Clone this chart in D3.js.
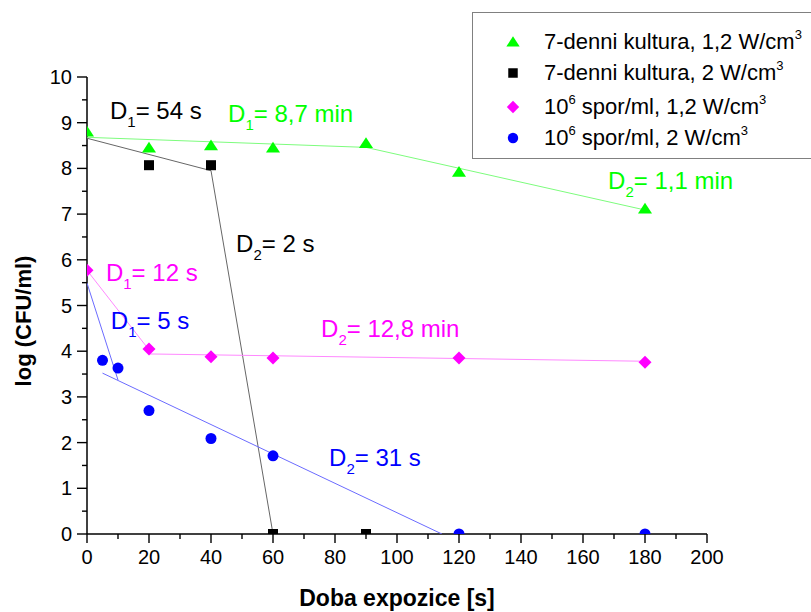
<!DOCTYPE html>
<html>
<head>
<meta charset="utf-8">
<script src="https://cdn.jsdelivr.net/npm/d3@7"></script>
<style>
  body { margin: 0; background: #fff; }
  svg text { font-family: "Liberation Sans", Arial, sans-serif; }
</style>
</head>
<body>
<svg id="chart" width="811" height="612"></svg>
<script>
// Exposure time (s) and log(CFU/ml) for each culture / power setting
const culture7_12_t = [0, 20, 40, 60, 90, 120, 180];
const culture7_12_v = [8.8, 8.45, 8.5, 8.45, 8.55, 7.92, 7.12];
const culture7_2_t = [20, 40, 60, 90];
const culture7_2_v = [8.07, 8.07, 0, 0];
const spores_12_t = [0, 20, 40, 60, 120, 180];
const spores_12_v = [5.77, 4.05, 3.88, 3.85, 3.85, 3.76];
const spores_2_t = [5, 10, 20, 40, 60, 120, 180];
const spores_2_v = [3.8, 3.63, 2.7, 2.09, 1.71, 0, 0];

// Two-phase inactivation fits: [t, log] endpoints of each segment
const fit7_12 = [[[0, 8.68], [90, 8.46]], [[90, 8.46], [180, 7.09]]];
const fit7_2 = [[[0, 8.66], [40, 7.95]], [[40, 7.95], [60, 0]]];
const fitSp_12 = [[[0, 5.77], [20, 4.03]], [[20, 3.94], [180, 3.78]]];
const fitSp_2 = [[[0, 5.49], [10, 3.37]], [[5, 3.52], [114.5, 0]]];

// D-value annotations: [t, log, sub index, text]
const notes7_12 = [[45.5, 9.02, "1", "= 8,7 min"], [168.1, 7.55, "2", "= 1,1 min"]];
const notes7_2 = [[7.4, 9.08, "1", "= 54 s"], [48.1, 6.17, "2", "= 2 s"]];
const notesSp_12 = [[6.1, 5.53, "1", "= 12 s"], [75.5, 4.31, "2", "= 12,8 min"]];
const notesSp_2 = [[7.7, 4.49, "1", "= 5 s"], [78.1, 1.49, "2", "= 31 s"]];

const xTicks = [0, 20, 40, 60, 80, 100, 120, 140, 160, 180, 200];
const yTicks = [0, 1, 2, 3, 4, 5, 6, 7, 8, 9, 10];

const svg = d3.select("#chart");
const x = d3.scaleLinear().domain([0, 200]).range([87, 707]);
const y = d3.scaleLinear().domain([0, 10]).range([534, 77]);

svg.append("defs").append("clipPath").attr("id", "plot")
  .append("rect").attr("x", 87).attr("y", 60).attr("width", 640).attr("height", 474);

// Rotated-square marker for the diamond series
const symbolRhomb = {
  draw(ctx, size) {
    const r = Math.sqrt(size / 2);
    ctx.moveTo(0, -r); ctx.lineTo(r, 0); ctx.lineTo(0, r); ctx.lineTo(-r, 0); ctx.closePath();
  }
};
// Upward triangle marker
const symbolTri = {
  draw(ctx, size) {
    const w = Math.sqrt(size) * 0.74;
    ctx.moveTo(0, -w * 0.85); ctx.lineTo(w, w * 0.68); ctx.lineTo(-w, w * 0.68); ctx.closePath();
  }
};

const series = [
  { t: culture7_12_t, v: culture7_12_v, fit: fit7_12, notes: notes7_12, color: "#00ff00", line: "#7dfc7d", sym: symbolTri, size: 90,
    label: "7-denni kultura, 1,2 W/cm", pre: null },
  { t: culture7_2_t, v: culture7_2_v, fit: fit7_2, notes: notes7_2, color: "#000000", line: "#666666", sym: d3.symbolSquare, size: 100,
    label: "7-denni kultura, 2 W/cm", pre: null },
  { t: spores_12_t, v: spores_12_v, fit: fitSp_12, notes: notesSp_12, color: "#ff00ff", line: "#ff88ff", sym: symbolRhomb, size: 85,
    label: " spor/ml, 1,2 W/cm", pre: "10" },
  { t: spores_2_t, v: spores_2_v, fit: fitSp_2, notes: notesSp_2, color: "#0000ff", line: "#6b6bff", sym: d3.symbolCircle, size: 95,
    label: " spor/ml, 2 W/cm", pre: "10" }
];

// Axes
const xAxis = svg.append("g").attr("transform", "translate(0,534)");
xAxis.append("line").attr("x1", 87).attr("x2", 707).attr("stroke", "#000").attr("stroke-width", 1.5);
d3.range(0, 201, 10).forEach(t => {
  const major = t % 20 === 0;
  xAxis.append("line").attr("x1", x(t)).attr("x2", x(t)).attr("y1", 0).attr("y2", major ? 9 : 5)
    .attr("stroke", "#000").attr("stroke-width", 1.4);
});
xAxis.selectAll("text.tick").data(xTicks).join("text")
  .attr("x", d => x(d)).attr("y", 30).attr("text-anchor", "middle")
  .attr("font-size", 20).attr("fill", "#000").text(d => d);

const yAxis = svg.append("g").attr("transform", "translate(87,0)");
yAxis.append("line").attr("y1", 77).attr("y2", 534).attr("stroke", "#000").attr("stroke-width", 1.5);
d3.range(0, 10.01, 0.5).forEach(v => {
  const major = Math.abs(v - Math.round(v)) < 1e-9;
  yAxis.append("line").attr("x1", 0).attr("x2", major ? -10 : -5).attr("y1", y(v)).attr("y2", y(v))
    .attr("stroke", "#000").attr("stroke-width", 1.4);
});
yAxis.selectAll("text.tick").data(yTicks).join("text")
  .attr("x", -15).attr("y", d => y(d) + 7).attr("text-anchor", "end")
  .attr("font-size", 20).attr("fill", "#000").text(d => d);

svg.append("text").attr("x", 397).attr("y", 606).attr("text-anchor", "middle")
  .attr("font-size", 23).attr("font-weight", "bold").text("Doba expozice [s]");
svg.append("text").attr("transform", "translate(31,321) rotate(-90)").attr("text-anchor", "middle")
  .attr("font-size", 22).attr("font-weight", "bold").text("log (CFU/ml)");

// Fit lines and markers
const plot = svg.append("g").attr("clip-path", "url(#plot)");
const lineGen = d3.line().x(d => x(d[0])).y(d => y(d[1]));
series.forEach(s => {
  s.fit.forEach(seg => {
    plot.append("path").attr("d", lineGen(seg)).attr("fill", "none")
      .attr("stroke", s.line).attr("stroke-width", 1);
  });
});
series.forEach(s => {
  const pts = s.t.map((t, i) => [t, s.v[i]]);
  plot.selectAll(null).data(pts).join("path")
    .attr("d", d3.symbol().type(s.sym).size(s.size))
    .attr("transform", d => `translate(${x(d[0])},${y(d[1])})`)
    .attr("fill", s.color);
});

// D-value labels with subscripts
series.forEach(s => {
  s.notes.forEach(n => {
    const t = svg.append("text").attr("x", x(n[0])).attr("y", y(n[1]))
      .attr("font-size", 24).attr("fill", s.color);
    t.append("tspan").text("D");
    t.append("tspan").attr("font-size", 15).attr("dy", 8).text(n[2]);
    t.append("tspan").attr("dy", -8).text(n[3]);
  });
});

// Legend
const lg = svg.append("g");
lg.append("rect").attr("x", 472.5).attr("y", 12.5).attr("width", 345).attr("height", 146)
  .attr("fill", "#fff").attr("stroke", "#808080").attr("stroke-width", 1);
const rowY = [42, 73, 107, 138];
series.forEach((s, i) => {
  const cy = rowY[i];
  lg.append("path").attr("d", d3.symbol().type(s.sym).size(s.size * 0.9))
    .attr("transform", `translate(513,${cy})`).attr("fill", s.color);
  const t = lg.append("text").attr("x", 544).attr("y", cy + 7).attr("font-size", 22).attr("fill", "#000");
  if (s.pre) {
    t.append("tspan").text(s.pre);
    t.append("tspan").attr("font-size", 13).attr("dy", -10).text("6");
    t.append("tspan").attr("dy", 10).text(s.label);
  } else {
    t.append("tspan").text(s.label);
  }
  t.append("tspan").attr("font-size", 13).attr("dy", -10).text("3");
});
</script>
</body>
</html>
